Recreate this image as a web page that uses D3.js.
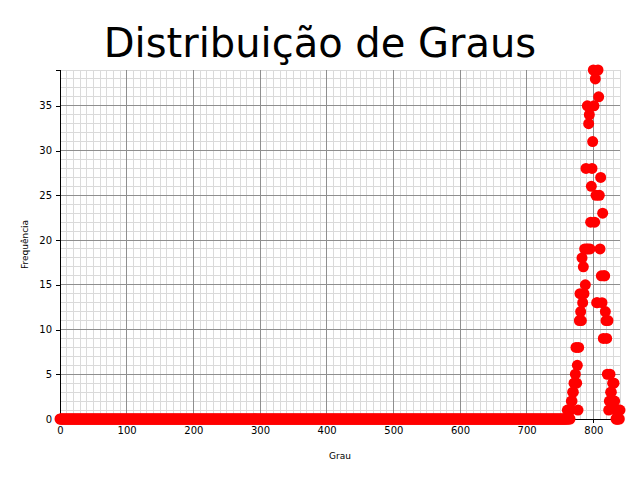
<!DOCTYPE html>
<html>
<head>
<meta charset="utf-8">
<script src="https://cdn.jsdelivr.net/npm/d3@7"></script>
<style>
  html, body { margin: 0; padding: 0; background: #fff; }
  svg { display: block; font-family: "DejaVu Sans", sans-serif; }
</style>
</head>
<body>
<svg id="chart" width="640" height="480"></svg>
<script>
// ---- data ----
const titleText = "Distribuição de Graus";
const xLabel = "Grau";
const yLabel = "Frequência";
const xTicks = [0, 100, 200, 300, 400, 500, 600, 700, 800];
const yTicks = [0, 5, 10, 15, 20, 25, 30, 35];
// every degree from 0 up to this one has frequency 0
const zeroDegreesEnd = 760;
// frequencies for consecutive degrees starting at peakStart
const peakStart = 761;
const peakFreq = [
  1, 0, 0, 1, 0, 1, 2, 2, 3, 3,      // 761-770
  4, 4, 5, 8, 4, 6, 1, 8, 11, 14,    // 771-780
  12, 11, 18, 13, 17, 14, 19, 15, 28, 19, // 781-790
  35, 19, 33, 34, 19, 22, 26, 28, 31, 39, // 791-800
  35, 22, 38, 25, 13, 13, 39, 36, 25, 19, // 801-810
  27, 16, 13, 23, 9, 16, 16, 12, 11, 9,   // 811-820
  5, 11, 1, 2, 5, 3, 3, 2, 4, 4,          // 821-830
  4, 2, 1, 0, 0, 0, 0, 1, 0, 1            // 831-840
];

// ---- build table ----
const points = [];
for (let d = 0; d <= zeroDegreesEnd; d++) points.push({ degree: d, freq: 0 });
peakFreq.forEach((f, i) => points.push({ degree: peakStart + i, freq: f }));

const maxDegree = d3.max(points, p => p.degree);
const maxFreq = d3.max(points, p => p.freq);

// ---- layout ----
const svg = d3.select("#chart");
const margin = { left: 60, right: 20, top: 70, bottom: 61 };
const W = 640, H = 480;
const x = d3.scaleLinear().domain([0, maxDegree]).range([margin.left, W - margin.right]);
const y = d3.scaleLinear().domain([0, maxFreq]).range([H - margin.bottom, margin.top]);

// grid
const grid = svg.append("g").attr("shape-rendering", "crispEdges");
const minorX = d3.range(0, maxDegree + 0.001, 10).filter(v => v % 100 !== 0);
const minorY = d3.range(0, maxFreq + 0.001, 1).filter(v => v % 5 !== 0);
grid.selectAll(".mx").data(minorX).join("line")
  .attr("x1", d => x(d)).attr("x2", d => x(d))
  .attr("y1", y(0)).attr("y2", y(maxFreq))
  .attr("stroke", "#dadada").attr("stroke-width", 1);
grid.selectAll(".my").data(minorY).join("line")
  .attr("y1", d => y(d)).attr("y2", d => y(d))
  .attr("x1", x(0)).attr("x2", x(maxDegree))
  .attr("stroke", "#dadada").attr("stroke-width", 1);
grid.selectAll(".Mx").data(xTicks).join("line")
  .attr("x1", d => x(d)).attr("x2", d => x(d))
  .attr("y1", y(0)).attr("y2", y(maxFreq))
  .attr("stroke", "#8f8f8f").attr("stroke-width", 1);
grid.selectAll(".My").data(yTicks).join("line")
  .attr("y1", d => y(d)).attr("y2", d => y(d))
  .attr("x1", x(0)).attr("x2", x(maxDegree))
  .attr("stroke", "#8f8f8f").attr("stroke-width", 1);

// axes
const xAxis = svg.append("g")
  .attr("transform", `translate(0,${y(0)})`)
  .call(d3.axisBottom(x).tickValues(xTicks).tickFormat(d3.format("d")).tickSizeOuter(0).tickSize(4).tickPadding(4));
const yAxis = svg.append("g")
  .attr("transform", `translate(${x(0)},0)`)
  .call(d3.axisLeft(y).tickValues(yTicks).tickFormat(d3.format("d")).tickSizeOuter(0).tickSize(4).tickPadding(4));
[xAxis, yAxis].forEach(a => {
  a.select(".domain").attr("stroke", "#000").attr("stroke-width", 1).attr("shape-rendering", "crispEdges");
  a.selectAll(".tick line").attr("stroke", "#000").attr("stroke-width", 1).attr("shape-rendering", "crispEdges");
  a.selectAll(".tick text").attr("fill", "#000").style("font-size", "10px").style("font-family", "DejaVu Sans");
});

// points
svg.append("g").selectAll("circle").data(points).join("circle")
  .attr("cx", d => x(d.degree))
  .attr("cy", d => y(d.freq))
  .attr("r", 5.5)
  .attr("fill", "#ff0000");

// title and labels
svg.append("text").attr("x", W / 2).attr("y", 57)
  .attr("text-anchor", "middle").style("font-size", "40px").attr("fill", "#000")
  .text(titleText);
svg.append("text").attr("x", (x(0) + x(maxDegree)) / 2).attr("y", 459)
  .attr("text-anchor", "middle").style("font-size", "9px").attr("fill", "#000")
  .text(xLabel);
svg.append("text")
  .attr("transform", `translate(28,${(y(0) + y(maxFreq)) / 2}) rotate(-90)`)
  .attr("text-anchor", "middle").style("font-size", "9px").attr("fill", "#000")
  .text(yLabel);
</script>
</body>
</html>
